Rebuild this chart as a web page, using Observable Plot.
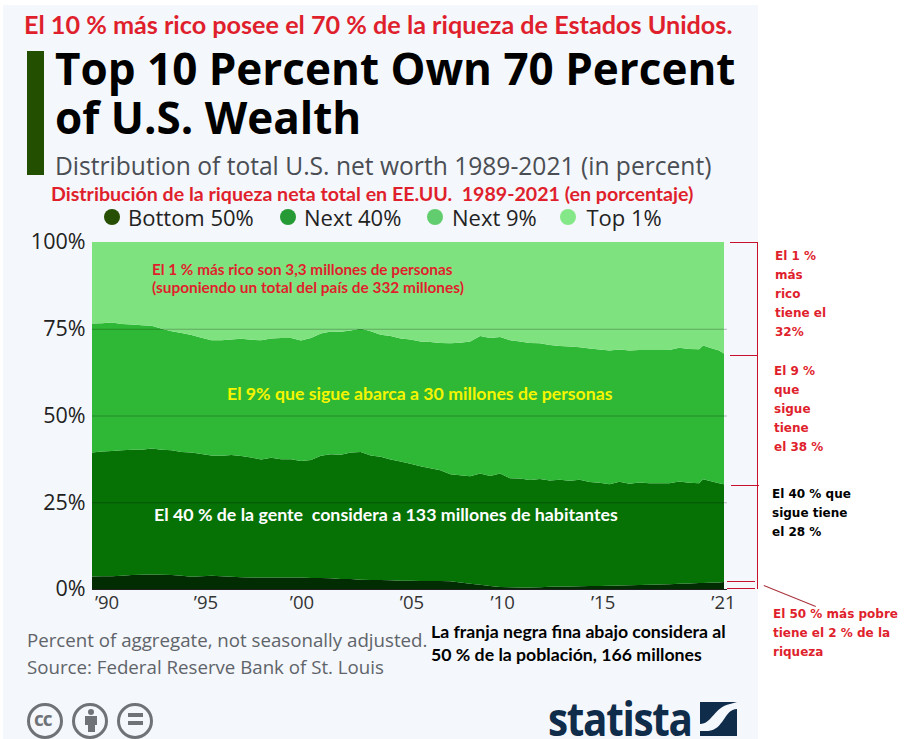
<!DOCTYPE html>
<html lang="es">
<head>
<meta charset="utf-8">
<script src="https://cdn.jsdelivr.net/npm/d3@7"></script>
<script src="https://cdn.jsdelivr.net/npm/@observablehq/plot@0.6"></script>
<style>
html,body{margin:0;padding:0;background:#fff;}
#page{position:relative;width:904px;height:739px;overflow:hidden;background:#fff;}
#panel{position:absolute;left:3px;top:5px;width:755px;height:734px;background:#f4f7fb;}
#chart{position:absolute;left:0;top:222px;}
.t{position:absolute;white-space:pre;line-height:1;transform:translateY(-50%);}
.box{position:absolute;}
#logoMark{position:absolute;left:700px;top:702px;}
</style>
</head>
<body>
<div id="page"><div id="panel"></div><div id="chart"></div>
<svg id="logoMark" width="37" height="34" viewBox="0 0 37 34"><rect width="37" height="34" fill="#0f2c4b"/><path d="M0 22 C12 22,14 5,30 2 L37 0 L37 7 C24 7,24 28,8 29 L0 29 Z" fill="#f4f7fb"/></svg>
</div>
<script>
const years = [1989.5,1990,1990.5,1991,1991.5,1992,1992.5,1993,1993.5,1994,1994.5,1995,1995.5,1996,1996.5,1997,1997.5,1998,1998.5,1999,1999.5,2000,2000.5,2001,2001.5,2002,2002.5,2003,2003.5,2004,2004.5,2005,2005.5,2006,2006.5,2007,2007.5,2008,2008.5,2009,2009.5,2010,2010.5,2011,2011.5,2012,2012.5,2013,2013.5,2014,2014.5,2015,2015.5,2016,2016.5,2017,2017.5,2018,2018.5,2019,2019.5,2020,2020.2,2020.5,2021,2021.25];
// upper edge of each band, in percent
const bottom50Edge = [3.6,3.65,3.7,3.8,4.0,4.1,4.2,4.1,4.0,3.8,3.5,3.7,3.8,3.7,3.5,3.4,3.3,3.3,3.3,3.3,3.3,3.3,3.2,3.2,3.1,2.9,2.9,2.7,2.6,2.6,2.5,2.4,2.35,2.3,2.3,2.3,2.2,1.9,1.5,1.2,0.9,0.6,0.5,0.45,0.45,0.5,0.65,0.7,0.75,0.8,0.85,0.9,0.95,1.0,1.05,1.15,1.2,1.3,1.4,1.5,1.6,1.7,1.75,1.8,1.9,2.0];
const next40Edge = [39.35,39.65,39.8,39.95,40.1,40.1,40.5,40.1,39.95,39.5,39.35,38.9,38.5,38.4,38.6,38.3,37.9,37.3,37.8,37.4,37.4,36.9,37.2,38.4,38.8,38.7,39.35,39.45,38.5,38.1,37.3,36.75,36.1,35.4,34.8,34.25,33.1,32.8,32.5,33.3,32.6,33.3,31.9,31.85,31.4,31.7,31.3,31.45,31.2,31.45,30.8,30.6,30.2,30.9,30.3,30.7,30.5,30.5,30.5,31.0,30.6,30.5,31.6,31.2,30.5,30.2];
const next9Edge = [76.5,76.6,76.8,76.4,76.2,76.0,75.9,75.0,74.3,73.8,73.2,72.4,71.7,71.7,71.9,72.1,71.8,71.7,72.2,72.3,72.3,71.6,72.3,73.6,74.2,74.1,74.5,75.1,74.3,73.3,72.9,72.2,71.9,71.3,71.2,70.9,70.8,71.0,71.3,72.9,72.3,72.6,71.7,71.3,70.9,70.8,70.3,70.0,69.9,69.7,69.3,69.0,68.7,69.0,68.7,68.9,68.9,68.9,68.9,69.5,69.2,69.1,70.2,69.6,68.7,67.9];

const groups = ["Bottom 50%","Next 40%","Next 9%","Top 1%"];
const areaColors = ["#022c02","#067206","#2fb835","#7ee37f"];
const legendColors = ["#274f04","#269a35","#62cd6e","#85e888"];
const yTicks = [0,25,50,75,100];
const xTickYears = [1990.23,1995.2,2000.02,2005.55,2010.1,2015.15,2021.2];
const xTickLabels = ["’90","’95","’00","’05","’10","’15","’21"];

const rows = years.flatMap((year,i)=>[
  {year,group:groups[0],share:bottom50Edge[i]},
  {year,group:groups[1],share:next40Edge[i]-bottom50Edge[i]},
  {year,group:groups[2],share:next9Edge[i]-next40Edge[i]},
  {year,group:groups[3],share:100-next9Edge[i]}
]);

const chart = Plot.plot({
  width:904,height:398,
  marginLeft:92,marginRight:180,marginTop:20,marginBottom:31,
  style:{background:"transparent",fontFamily:"'Open Sans',sans-serif"},
  x:{domain:[1989.5,2021.25],axis:null},
  y:{domain:[0,100],axis:null},
  color:{domain:groups,range:areaColors},
  marks:[
    Plot.areaY(rows,{x:"year",y:"share",fill:"group",z:"group",order:groups,curve:"linear"}),
    Plot.ruleY([25,50,75],{stroke:"#000",strokeOpacity:0.25,strokeWidth:1,insetRight:-3}),
    Plot.ruleY([0],{stroke:"#222",strokeWidth:1,insetRight:-3}),
    Plot.axisY({ticks:yTicks,tickFormat:d=>d+"%",tickSize:0,tickPadding:7,fontSize:21.5,color:"#222",label:null,marginLeft:92}),
    Plot.axisX({ticks:xTickYears,tickFormat:d=>xTickLabels[xTickYears.indexOf(d)],tickSize:0,tickPadding:6,fontSize:18.5,color:"#333",label:null})
  ]
});
document.getElementById("chart").appendChild(chart);

const OS="'Open Sans',sans-serif", LT="Lato,sans-serif", DJ="'DejaVu Sans',sans-serif";
const RED="#e01f2d";
const page=document.getElementById("page");
function txt(s,x,y,font,size,weight,color,ls){
  const d=document.createElement("div");d.className="t";d.textContent=s;
  d.style.cssText=`left:${x}px;top:${y}px;font-family:${font};font-size:${size}px;font-weight:${weight};color:${color};letter-spacing:${ls||0}px`;
  page.appendChild(d);return d;
}
function box(x,y,w,h,bg,extra){
  const d=document.createElement("div");d.className="box";
  d.style.cssText=`left:${x}px;top:${y}px;width:${w}px;height:${h}px;background:${bg};${extra||""}`;
  page.appendChild(d);return d;
}
// headings
txt("El 10 % más rico posee el 70 % de la riqueza de Estados Unidos.",24,25,LT,25.2,700,RED);
box(27,51,17,124,"#234f00");
txt("Top 10 Percent Own 70 Percent",55,68,OS,44,700,"#000");
txt("of U.S. Wealth",55,117,OS,44,700,"#000");
txt("Distribution of total U.S. net worth 1989-2021 (in percent)",55,166,OS,24.6,400,"#4a4e54");
txt("Distribución de la riqueza neta total en EE.UU.  1989-2021 (en porcentaje)",51,194,LT,19.6,700,RED);
// legend
const legendDotX=[103.5,279.5,427,560], legendTextX=[128,304,452,586.5];
groups.forEach((g,i)=>{
  box(legendDotX[i],209,16,16,legendColors[i],"border-radius:50%");
  txt(g,legendTextX[i],217,OS,22,400,"#222");
});
// notes on the chart
txt("El 1 % más rico son 3,3 millones de personas",152,270,LT,15.3,700,RED);
txt("(suponiendo un total del país de 332 millones)",152,288,LT,15.4,700,RED);
txt("El 9% que sigue abarca a 30 millones de personas",227,394,LT,17.7,700,"#f5f500");
txt("El 40 % de la gente  considera a 133 millones de habitantes",154,515,LT,17.8,700,"#fff");
// footer
txt("Percent of aggregate, not seasonally adjusted.",27,640,OS,18.7,400,"#5f646a");
txt("Source: Federal Reserve Bank of St. Louis",27,667,OS,18.7,400,"#5f646a");
txt("La franja negra fina abajo considera al",431,632,LT,17.7,700,"#000");
txt("50 % de la población, 166 millones",431,655,LT,17.7,700,"#000");
// brackets
const BR="#c8102e";
[[730,242],[730,355],[731,485],[727,581],[727,588]].forEach(([x,y])=>box(x,y,28,1,BR));
box(757,242,1,347,BR);
box(764,585,55.5,1,"#a8323c","transform-origin:0 0;transform:rotate(22deg)");
// side notes
const sideNotes=[
 [775,[["El 1 %",256],["más",275],["rico",294],["tiene el",313],["32%",332]],RED],
 [774,[["El 9 %",371],["que",390],["sigue",409],["tiene",428],["el 38 %",447]],RED],
 [772,[["El 40 % que",494],["sigue tiene",513],["el 28 %",532]],"#000"],
 [773,[["El 50 % más pobre",614],["tiene el 2 % de la",633],["riqueza",652]],RED]
];
sideNotes.forEach(([x,lines,c])=>lines.forEach(([s,y])=>txt(s,x,y,DJ,12,700,c)));
// licence icons
const ICON="#6f7378";
[[27,"cc"],[72,""],[117,"="]].forEach(([x,s])=>{
  box(x,703,30,30,"transparent",`border:3.5px solid ${ICON};border-radius:50%`);
  if(s==="cc") txt("cc",x+7,719,OS,19,700,ICON,-1);
  if(s==="=") {box(x+11,713,15,4,ICON);box(x+11,721,15,4,ICON);}
  if(s==="") {box(x+16,709,6,6,ICON,"border-radius:50%");box(x+13,716,12,9,ICON);box(x+15.5,725,7,7,ICON);}
});
// logo
const logo=txt("statista",548,718,OS,46,700,"#0f2c4b",-1.5);
logo.style.transformOrigin="0 50%";
logo.style.transform="translateY(-50%) scaleX(0.88)";
</script>
</body>
</html>
